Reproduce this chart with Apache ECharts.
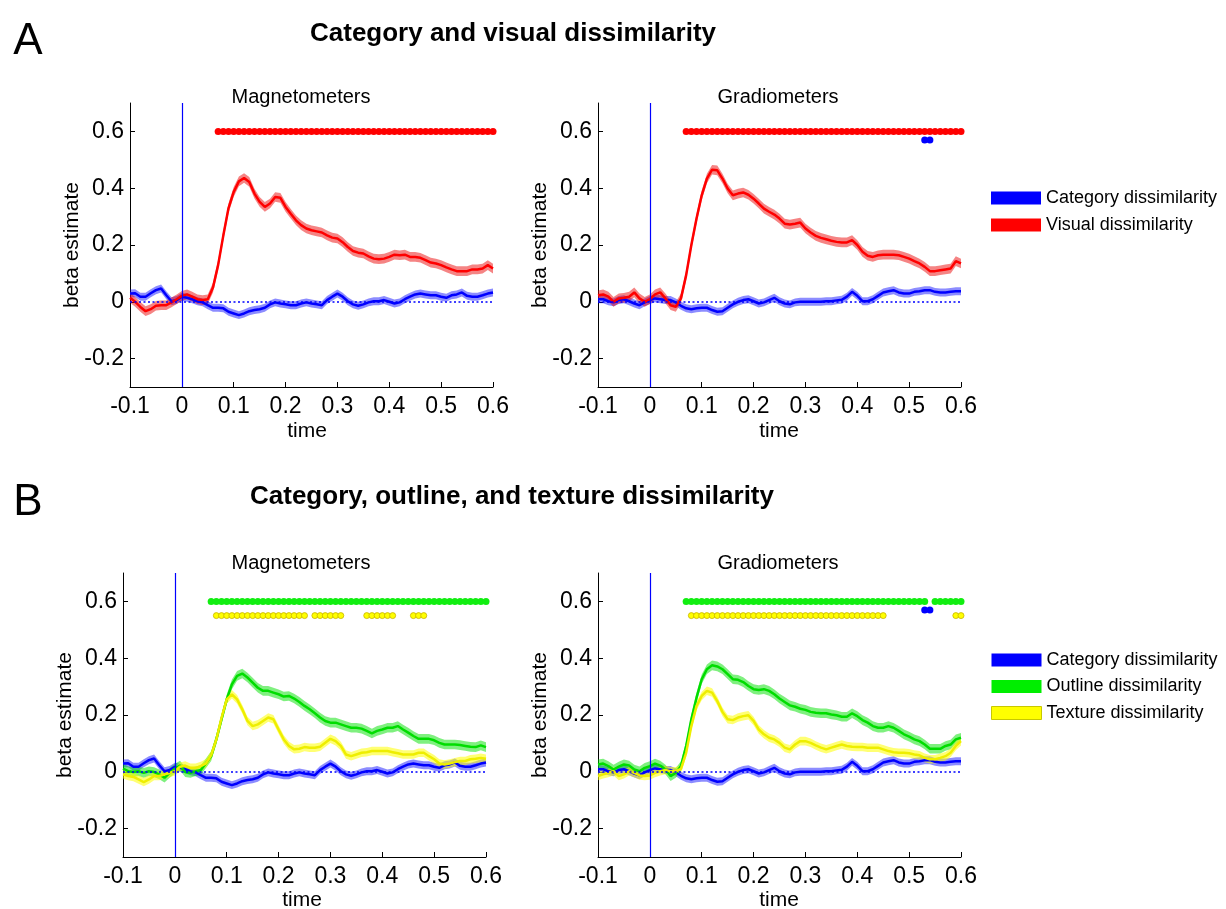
<!DOCTYPE html>
<html>
<head>
<meta charset="utf-8">
<script src="https://cdn.jsdelivr.net/npm/echarts@6/dist/echarts.min.js"></script>
<style>html,body{margin:0;padding:0;background:#fff}#chart{width:1226px;height:909px}</style>
</head>
<body>
<div id="chart"></div>
<script>
// ---- time samples (s) ----
const sampleTimes = [-0.1,-0.09,-0.08,-0.07,-0.06,-0.05,-0.04,-0.03,-0.02,-0.01,
  0,0.01,0.02,0.03,0.04,0.05,0.06,0.07,0.08,0.09,
  0.1,0.11,0.12,0.13,0.14,0.15,0.16,0.17,0.18,0.19,
  0.2,0.21,0.22,0.23,0.24,0.25,0.26,0.27,0.28,0.29,
  0.3,0.31,0.32,0.33,0.34,0.35,0.36,0.37,0.38,0.39,
  0.4,0.41,0.42,0.43,0.44,0.45,0.46,0.47,0.48,0.49,
  0.5,0.51,0.52,0.53,0.54,0.55,0.56,0.57,0.58,0.59,
  0.6];

// ---- A: Magnetometers ----
const categoryMag = [0.029,0.030,0.018,0.018,0.030,0.041,0.047,0.023,0.002,0.006,
  0.018,0.014,0.009,0.002,-0.002,-0.012,-0.021,-0.021,-0.023,-0.035,
  -0.041,-0.047,-0.041,-0.033,-0.029,-0.026,-0.021,-0.009,-0.002,-0.006,
  -0.009,-0.012,-0.012,-0.006,-0.002,-0.006,-0.009,-0.012,0.006,0.018,
  0.029,0.018,0.002,-0.009,-0.014,-0.009,-0.002,0.002,0.002,0.006,
  0.000,-0.006,-0.002,0.009,0.018,0.026,0.029,0.026,0.023,0.023,
  0.018,0.014,0.023,0.026,0.033,0.021,0.018,0.018,0.023,0.029,
  0.033];
const visualMag = [0.014,0.000,-0.018,-0.033,-0.026,-0.014,-0.012,-0.012,-0.002,0.009,
  0.021,0.026,0.018,0.009,0.006,0.009,0.050,0.130,0.234,0.330,
  0.387,0.424,0.436,0.422,0.381,0.352,0.334,0.346,0.369,0.366,
  0.334,0.310,0.287,0.270,0.258,0.252,0.248,0.244,0.234,0.226,
  0.223,0.210,0.193,0.179,0.173,0.170,0.160,0.152,0.150,0.152,
  0.158,0.166,0.164,0.166,0.158,0.158,0.155,0.147,0.138,0.135,
  0.129,0.121,0.114,0.108,0.108,0.108,0.114,0.114,0.117,0.129,
  0.117];
// ---- A: Gradiometers ----
const categoryGrad = [0.009,0.009,0.002,-0.002,0.006,0.009,0.002,-0.006,-0.012,-0.002,
  0.006,0.012,0.009,0.006,0.006,-0.002,-0.014,-0.023,-0.026,-0.023,
  -0.021,-0.021,-0.029,-0.035,-0.033,-0.021,-0.009,0.000,0.006,0.009,
  0.002,-0.006,-0.002,0.006,0.014,0.002,-0.006,-0.009,-0.002,0.000,
  0.000,0.000,0.000,0.000,0.002,0.002,0.005,0.007,0.018,0.035,
  0.021,0.002,0.002,0.009,0.021,0.033,0.037,0.041,0.033,0.029,
  0.029,0.035,0.037,0.041,0.041,0.035,0.033,0.033,0.035,0.037,
  0.037];
const visualGrad = [0.023,0.026,0.018,0.000,0.012,0.014,0.018,0.033,0.012,0.000,
  0.009,0.026,0.033,0.012,-0.012,-0.018,0.012,0.094,0.200,0.293,
  0.375,0.434,0.465,0.463,0.434,0.399,0.375,0.381,0.385,0.377,
  0.363,0.346,0.328,0.317,0.307,0.293,0.275,0.272,0.275,0.279,
  0.258,0.244,0.232,0.225,0.220,0.215,0.211,0.209,0.209,0.217,
  0.200,0.176,0.162,0.158,0.164,0.166,0.166,0.166,0.164,0.158,
  0.152,0.143,0.135,0.123,0.108,0.108,0.111,0.114,0.117,0.143,
  0.135];
// ---- B: Magnetometers ----
const outlineMag = [0.011,0.002,-0.001,0.002,-0.004,0.002,-0.001,-0.009,-0.021,-0.004,
  0.011,0.022,-0.001,-0.004,0.002,0.006,0.030,0.055,0.114,0.185,
  0.255,0.308,0.338,0.346,0.332,0.314,0.296,0.285,0.285,0.279,
  0.273,0.265,0.267,0.258,0.246,0.232,0.220,0.206,0.191,0.179,
  0.173,0.173,0.167,0.161,0.155,0.155,0.152,0.144,0.135,0.144,
  0.149,0.155,0.155,0.161,0.149,0.138,0.126,0.116,0.116,0.116,
  0.111,0.102,0.096,0.096,0.096,0.094,0.091,0.088,0.087,0.093,
  0.087];
const textureMag = [-0.009,-0.015,-0.018,-0.027,-0.036,-0.027,-0.015,-0.015,-0.009,-0.004,
  0.002,0.018,0.022,0.014,0.014,0.020,0.030,0.058,0.114,0.190,
  0.255,0.273,0.255,0.220,0.179,0.161,0.167,0.179,0.191,0.185,
  0.149,0.114,0.091,0.079,0.081,0.087,0.085,0.085,0.088,0.102,
  0.116,0.108,0.091,0.061,0.055,0.061,0.067,0.069,0.073,0.073,
  0.073,0.073,0.069,0.065,0.061,0.061,0.061,0.067,0.067,0.055,
  0.044,0.029,0.026,0.029,0.034,0.038,0.038,0.044,0.046,0.049,
  0.046];
// ---- B: Gradiometers ----
const outlineGrad = [0.026,0.029,0.020,0.008,0.018,0.026,0.022,0.008,0.002,0.014,
  0.020,0.029,0.022,0.008,-0.015,-0.004,0.020,0.091,0.185,0.261,
  0.326,0.361,0.375,0.371,0.361,0.344,0.326,0.324,0.316,0.302,
  0.291,0.288,0.291,0.285,0.273,0.258,0.246,0.234,0.229,0.222,
  0.218,0.211,0.208,0.206,0.206,0.202,0.199,0.194,0.194,0.206,
  0.196,0.182,0.173,0.161,0.155,0.155,0.161,0.155,0.144,0.132,
  0.124,0.114,0.108,0.096,0.081,0.081,0.081,0.091,0.096,0.114,
  0.120];
const textureGrad = [-0.015,-0.009,-0.004,0.002,-0.015,-0.009,0.002,-0.004,-0.013,-0.015,
  -0.013,-0.004,0.002,0.006,0.002,0.002,0.010,0.067,0.161,0.232,
  0.267,0.285,0.279,0.249,0.211,0.185,0.182,0.191,0.196,0.199,
  0.179,0.149,0.132,0.120,0.114,0.102,0.085,0.079,0.096,0.108,
  0.108,0.102,0.093,0.085,0.079,0.085,0.091,0.096,0.091,0.088,
  0.087,0.087,0.085,0.085,0.085,0.079,0.073,0.069,0.067,0.067,
  0.065,0.061,0.058,0.049,0.044,0.044,0.049,0.055,0.067,0.091,
  0.108];

// standard error half-widths of shaded bands
const seCategory = 0.014, seVisual = 0.017, seOutline = 0.017, seTexture = 0.015;

// significance ranges [start, end] (s) and their row levels
const sigVisualMag = [[0.07, 0.6]];
const sigVisualGrad = [[0.07, 0.6]];
const sigCategoryGrad = [[0.53, 0.54]];
const sigOutlineMag = [[0.07, 0.6]];
const sigTextureMag = [[0.08, 0.25], [0.27, 0.32], [0.37, 0.42], [0.46, 0.48]];
const sigOutlineGrad = [[0.07, 0.53], [0.55, 0.6]];
const sigTextureGrad = [[0.08, 0.45], [0.59, 0.6]];
const sigLevelMain = 0.6, sigLevelCategory = 0.57, sigLevelTexture = 0.55;

const yTickValues = [-0.2, 0, 0.2, 0.4, 0.6];

// ---- styling ----
const COL = {
  cat: {line: '#0000ff', band: 'rgba(0,0,255,0.45)', legend: '#0000ff'},
  vis: {line: '#ff0000', band: 'rgba(235,10,10,0.5)', legend: '#ff0000'},
  out: {line: '#00dd00', band: 'rgba(0,225,0,0.5)', legend: '#00ee00'},
  tex: {line: '#eeee00', band: 'rgba(255,255,0,0.55)', legend: '#ffff00'}
};
const FONT = 'Arial, "Liberation Sans", Helvetica, sans-serif';

const grids = [
  {left: 130, top: 103, width: 363, height: 284},
  {left: 598, top: 103, width: 363, height: 284},
  {left: 123, top: 573, width: 363, height: 284},
  {left: 598, top: 573, width: 363, height: 284}
];

function bandSeries(g, vals, se, color) {
  return {
    type: 'custom', xAxisIndex: g, yAxisIndex: g, silent: true,
    data: vals.map((v, i) => [sampleTimes[i], v - se, v + se]),
    encode: {x: 0, y: [1, 2]},
    renderItem: function (params, api) {
      if (params.dataIndex !== 0) return null;
      const n = params.dataInsideLength;
      const pts = [];
      for (let i = 0; i < n; i++) pts.push(api.coord([api.value(0, i), api.value(2, i)]));
      for (let i = n - 1; i >= 0; i--) pts.push(api.coord([api.value(0, i), api.value(1, i)]));
      return {type: 'polygon', shape: {points: pts}, style: {fill: color}};
    }
  };
}
function lineSeries(g, name, vals, color, extra) {
  return Object.assign({
    type: 'line', name: name, xAxisIndex: g, yAxisIndex: g,
    data: vals.map((v, i) => [sampleTimes[i], v]),
    symbol: 'none', color: color, itemStyle: {color: color},
    lineStyle: {color: color, width: 2.5}, silent: true
  }, extra || {});
}
function sigSeries(g, ranges, level, color, size, border) {
  const pts = sampleTimes
    .filter(t => ranges.some(r => t >= r[0] - 1e-9 && t <= r[1] + 1e-9))
    .map(t => [t, level]);
  return {
    type: 'scatter', xAxisIndex: g, yAxisIndex: g, silent: true, z: 5,
    symbolSize: size, data: pts,
    itemStyle: {color: color, borderColor: border || color, borderWidth: border ? 0.8 : 0, opacity: 1}
  };
}
function refLines() {
  return {
    markLine: {
      silent: true, symbol: ['none', 'none'], label: {show: false}, animation: false, z: 6,
      data: [
        {xAxis: 0, lineStyle: {color: '#0000ff', width: 1.2, type: 'solid'}},
        {yAxis: 0, lineStyle: {color: '#0000ff', width: 1.6, type: [2, 2.5]}}
      ]
    }
  };
}

const series = [
  // A left
  bandSeries(0, categoryMag, seCategory, COL.cat.band),
  lineSeries(0, 'Category dissimilarity', categoryMag, COL.cat.line, refLines()),
  bandSeries(0, visualMag, seVisual, COL.vis.band),
  lineSeries(0, 'Visual dissimilarity', visualMag, COL.vis.line),
  sigSeries(0, sigVisualMag, sigLevelMain, '#ff0000', 7),
  // A right
  bandSeries(1, categoryGrad, seCategory, COL.cat.band),
  lineSeries(1, 'Category dissimilarity', categoryGrad, COL.cat.line, refLines()),
  bandSeries(1, visualGrad, seVisual, COL.vis.band),
  lineSeries(1, 'Visual dissimilarity', visualGrad, COL.vis.line),
  sigSeries(1, sigVisualGrad, sigLevelMain, '#ff0000', 7),
  sigSeries(1, sigCategoryGrad, sigLevelCategory, '#0000ff', 7),
  // B left
  bandSeries(2, categoryMag, seCategory, COL.cat.band),
  lineSeries(2, 'Category dissimilarity', categoryMag, COL.cat.line, refLines()),
  bandSeries(2, outlineMag, seOutline, COL.out.band),
  lineSeries(2, 'Outline dissimilarity', outlineMag, COL.out.line),
  bandSeries(2, textureMag, seTexture, COL.tex.band),
  lineSeries(2, 'Texture dissimilarity', textureMag, COL.tex.line),
  sigSeries(2, sigOutlineMag, sigLevelMain, '#11ee11', 7),
  sigSeries(2, sigTextureMag, sigLevelTexture, '#ffff00', 6, '#c8b400'),
  // B right
  bandSeries(3, categoryGrad, seCategory, COL.cat.band),
  lineSeries(3, 'Category dissimilarity', categoryGrad, COL.cat.line, refLines()),
  bandSeries(3, outlineGrad, seOutline, COL.out.band),
  lineSeries(3, 'Outline dissimilarity', outlineGrad, COL.out.line),
  bandSeries(3, textureGrad, seTexture, COL.tex.band),
  lineSeries(3, 'Texture dissimilarity', textureGrad, COL.tex.line),
  sigSeries(3, sigOutlineGrad, sigLevelMain, '#11ee11', 7),
  sigSeries(3, sigCategoryGrad, sigLevelCategory, '#0000ff', 7),
  sigSeries(3, sigTextureGrad, sigLevelTexture, '#ffff00', 6, '#c8b400')
];

const fmt = v => String(parseFloat(Number(v).toFixed(2)));
const xAxes = grids.map((_, g) => ({
  type: 'value', gridIndex: g, min: -0.1, max: 0.6, interval: 0.1,
  axisLine: {show: true, onZero: false, lineStyle: {color: '#000', width: 1}},
  axisTick: {show: true, inside: true, length: 5, lineStyle: {color: '#000'}},
  axisLabel: {color: '#000', fontSize: 23, fontFamily: FONT, margin: 8, formatter: fmt, showMinLabel: true, showMaxLabel: true},
  splitLine: {show: false}
}));
const yAxes = grids.map((_, g) => ({
  type: 'value', gridIndex: g, min: -0.3, max: 0.7,
  axisLine: {show: true, onZero: false, lineStyle: {color: '#000', width: 1}},
  axisTick: {show: true, inside: true, length: 5, lineStyle: {color: '#000'}, customValues: yTickValues},
  axisLabel: {color: '#000', fontSize: 23, fontFamily: FONT, margin: 6, formatter: fmt, customValues: yTickValues},
  splitLine: {show: false}
}));

function txt(x, y, text, size, extra) {
  return {type: 'text', x: x, y: y, silent: true, z: 10, rotation: (extra && extra.rotation) || 0,
    style: Object.assign({text: text, fontSize: size, fontFamily: FONT, fill: '#000', align: 'center', verticalAlign: 'middle'},
      extra && extra.style || {})};
}
const graphics = [
  txt(28, 42, 'A', 44),
  txt(28, 503, 'B', 44),
  txt(513, 34, 'Category and visual dissimilarity', 26, {style: {fontWeight: 'bold'}}),
  txt(512, 497, 'Category, outline, and texture dissimilarity', 26, {style: {fontWeight: 'bold'}}),
  txt(301, 97, 'Magnetometers', 20),
  txt(778, 97, 'Gradiometers', 20),
  txt(301, 563, 'Magnetometers', 20),
  txt(778, 563, 'Gradiometers', 20),
  txt(307, 431, 'time', 21),
  txt(779, 431, 'time', 21),
  txt(302, 900, 'time', 21),
  txt(779, 900, 'time', 21),
  txt(72, 245, 'beta estimate', 21, {rotation: Math.PI / 2}),
  txt(540, 245, 'beta estimate', 21, {rotation: Math.PI / 2}),
  txt(65, 715, 'beta estimate', 21, {rotation: Math.PI / 2}),
  txt(540, 715, 'beta estimate', 21, {rotation: Math.PI / 2})
];

const legendCommon = {
  orient: 'vertical', left: 991, padding: 0, icon: 'rect', itemWidth: 50, itemHeight: 13,
  selectedMode: false, textStyle: {color: '#000', fontSize: 18, fontFamily: FONT}
};
const option = {
  animation: false,
  backgroundColor: '#fff',
  grid: grids,
  xAxis: xAxes,
  yAxis: yAxes,
  legend: [
    Object.assign({}, legendCommon, {top: 189, itemGap: 9,
      data: [{name: 'Category dissimilarity', itemStyle: {color: COL.cat.legend}},
             {name: 'Visual dissimilarity', itemStyle: {color: COL.vis.legend}}]}),
    Object.assign({}, legendCommon, {top: 651, itemGap: 8.5,
      data: [{name: 'Category dissimilarity', itemStyle: {color: COL.cat.legend}},
             {name: 'Outline dissimilarity', itemStyle: {color: COL.out.legend}},
             {name: 'Texture dissimilarity', itemStyle: {color: COL.tex.legend, borderColor: '#c8c800', borderWidth: 1}}]})
  ],
  graphic: graphics,
  series: series
};
const chart = echarts.init(document.getElementById('chart'), null, {renderer: 'canvas'});
chart.setOption(option);
</script>
</body>
</html>
